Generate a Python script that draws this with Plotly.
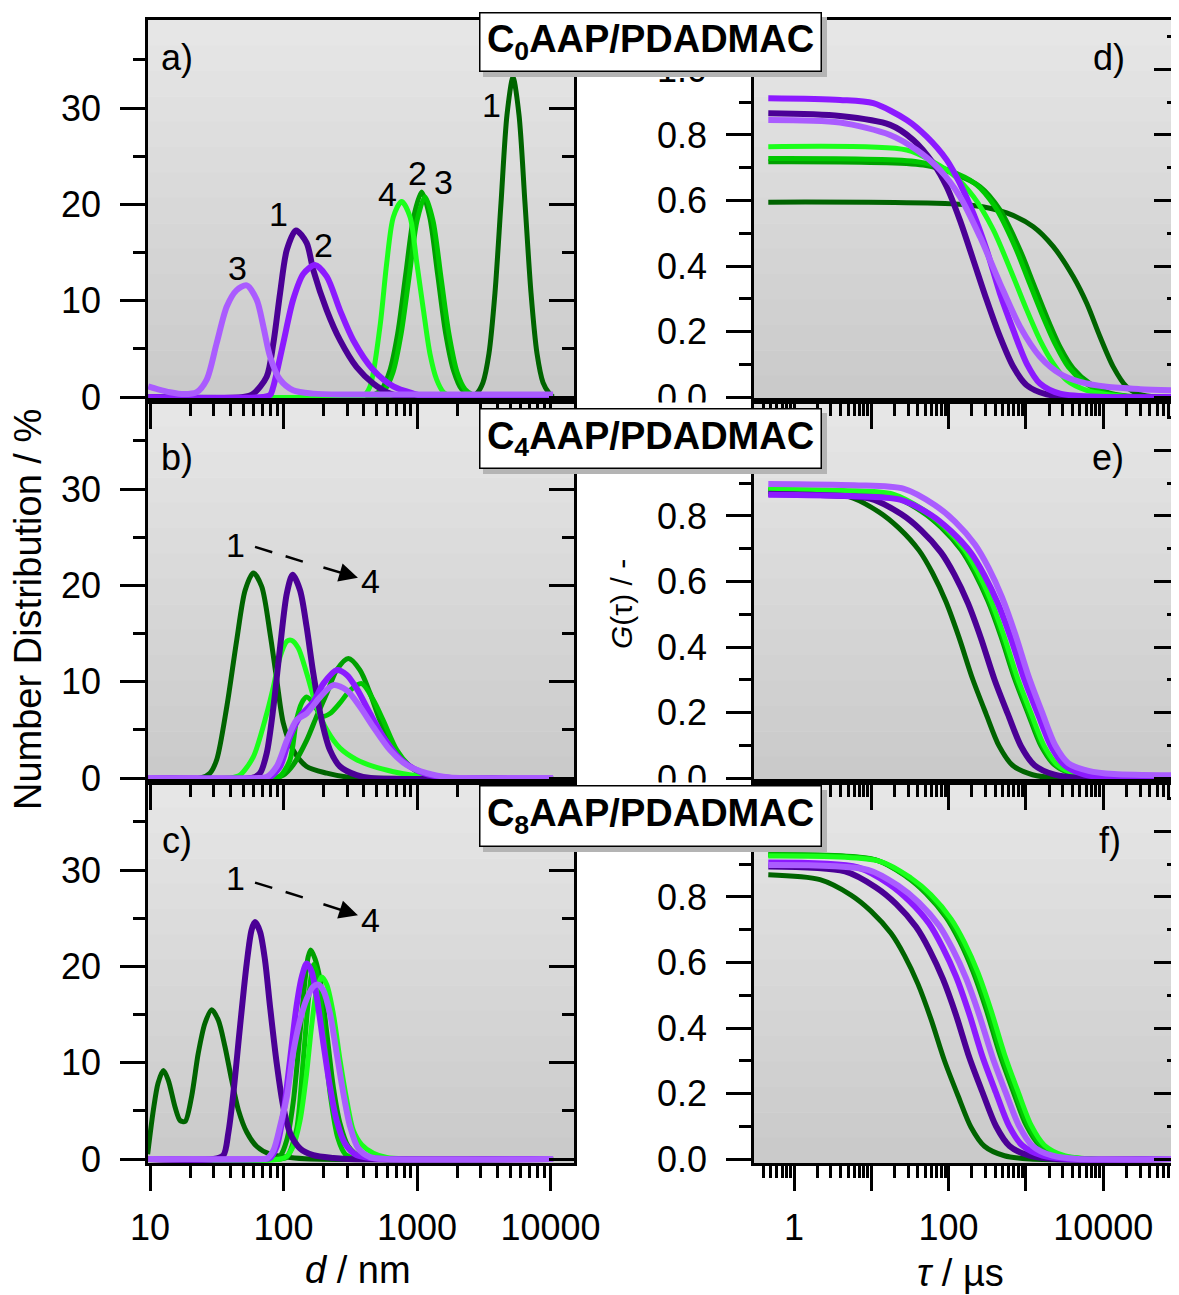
import math
import plotly.graph_objects as go

# page is 1179 x 1295; the browser body adds an 8 px margin around the figure
OFF = 8
W, H = 1179 - OFF, 1295 - OFF

# ======================= DATA =======================
# Left column: number distribution (%) vs d (nm)
# a) C0AAP/PDADMAC
a_dg_d = [9.7, 2500, 2812, 3119, 3459, 3837, 4256, 4721, 5236, 5808, 6442, 7145, 7925, 8790, 9750, 10450]
a_dg_n = [0, 0, 0.4, 1.5, 4.5, 10.8, 20.1, 29.3, 33.2, 29.3, 20.1, 10.8, 4.5, 1.5, 0.4, 0]
a_g2_d = [9.7, 420, 474, 544, 625, 717, 823, 944, 1084, 1245, 1429, 1640, 1883, 2161, 2481, 2800, 10450]
a_g2_n = [0, 0, 0.2, 0.8, 2.7, 6.6, 12.7, 18.7, 21.3, 18.7, 12.7, 6.6, 2.7, 0.8, 0.2, 0, 0]
a_g3_d = [9.7, 440, 502, 576, 662, 759, 871, 1000, 1148, 1318, 1513, 1737, 1994, 2289, 2627, 3000, 10450]
a_g3_n = [0, 0, 0.2, 0.8, 2.6, 6.5, 12.4, 18.3, 20.8, 18.3, 12.4, 6.5, 2.6, 0.8, 0.2, 0, 0]
a_bg_d = [9.7, 350, 396, 445, 528, 593, 665, 767, 887, 997, 1118, 1250, 1404, 1578, 1873, 10450]
a_bg_n = [0, 0, 0.1, 1.1, 7.3, 13.9, 18.7, 20.3, 18.7, 13.9, 9.0, 4.5, 1.8, 0.5, 0, 0]
a_dp_d = [9.7, 50, 59.4, 74.8, 84, 94.3, 106, 124, 149, 167, 211, 265, 353, 471, 628, 800, 10450]
a_dp_n = [0, 0, 0.35, 2.1, 5.6, 10.8, 15.3, 17.3, 16.0, 13.2, 9.0, 5.9, 3.1, 1.4, 0.35, 0, 0]
a_vi_d = [9.7, 70, 79.3, 84, 99.6, 118, 141, 172, 211, 265, 333, 471, 665, 940, 1200, 10450]
a_vi_n = [0, 0, 0.2, 1.1, 5.6, 10.1, 12.8, 13.7, 12.5, 9.0, 5.9, 2.8, 1.1, 0.35, 0, 0]
a_lp_d = [9.7, 11.5, 14.1, 18, 22.4, 26.6, 31.6, 37.6, 44.6, 53, 63, 70.7, 79.3, 94.3, 118, 167, 300, 10450]
a_lp_n = [1.1, 0.8, 0.5, 0.3, 0.5, 1.8, 5.6, 9.4, 11.1, 11.6, 10.1, 7.3, 4.2, 1.8, 0.7, 0.35, 0.25, 0.25]

# b) C4AAP/PDADMAC
b_dg_d = [9.7, 24, 28.1, 31.6, 37.6, 44.6, 51.6, 59.4, 68.6, 79.3, 89, 99.7, 118, 149, 211, 298, 400, 10450]
b_dg_n = [0, 0, 0.5, 1.9, 7.4, 14.3, 19.5, 21.3, 19.9, 15.0, 10.2, 5.7, 2.9, 1.2, 0.5, 0.1, 0, 0]
b_g2_d = [9.7, 85, 99.7, 118, 149, 177, 211, 250, 306, 374, 445, 528, 665, 838, 1052, 1324, 1600, 10450]
b_g2_n = [0, 0, 0.3, 1.35, 3.9, 6.4, 8.8, 11.2, 12.4, 11.2, 8.8, 6.0, 3.3, 1.5, 0.5, 0.1, 0, 0]
b_g3_d = [9.7, 80, 94.3, 112, 125, 137, 149, 167, 193, 223, 265, 315, 385, 471, 558, 706, 887, 1118, 1400, 10450]
b_g3_n = [0, 0, 0.2, 1.9, 6.0, 7.8, 8.4, 7.8, 6.4, 6.7, 7.8, 9.1, 9.8, 8.1, 6.0, 2.9, 1.2, 0.3, 0, 0]
b_bg_d = [9.7, 40, 47.2, 59.4, 74.9, 84.1, 94.3, 106, 115, 129, 149, 177, 211, 265, 353, 471, 665, 997, 1300, 10450]
b_bg_n = [0, 0, 0.3, 2.2, 6.7, 9.5, 12.6, 14.2, 14.3, 13.5, 10.9, 7.4, 5.0, 3.1, 1.9, 1.2, 0.65, 0.2, 0, 0]
b_dp_d = [9.7, 58, 66.7, 74.9, 84.1, 94.3, 106, 117, 133, 149, 167, 193, 223, 265, 353, 450, 10450]
b_dp_n = [0, 0, 0.5, 2.6, 7.4, 13.6, 19.2, 21.1, 19.5, 15.7, 10.9, 6.0, 2.9, 1.2, 0.3, 0, 0]
b_vi_d = [9.7, 70, 79.3, 94.3, 112, 133, 167, 199, 250, 298, 353, 445, 558, 746, 1052, 1486, 1800, 10450]
b_vi_n = [0, 0, 0.1, 1.2, 4.3, 6.4, 7.9, 9.8, 11.2, 10.7, 9.3, 6.7, 4.3, 2.0, 0.65, 0.1, 0, 0]
b_lp_d = [9.7, 66, 74.9, 89, 106, 125, 149, 188, 236, 298, 374, 471, 628, 838, 1183, 1766, 2200, 10450]
b_lp_n = [0, 0, 0.1, 1.2, 3.9, 6.0, 6.7, 8.4, 9.65, 9.1, 7.4, 5.3, 2.9, 1.35, 0.5, 0.05, 0, 0]

# c) C8AAP/PDADMAC
c_dg_d = [9.6, 10.6, 11.5, 12.6, 13.7, 15.4, 16.8, 18.3, 20.5, 23.0, 25.8, 29.0, 32.5, 36.4, 40.9, 45.9, 53.0, 63.1, 79.3, 112, 160, 10450]
c_dg_n = [0.5, 5.1, 7.9, 9.2, 8.2, 5.4, 4.0, 3.9, 6.5, 11.0, 14.1, 15.5, 14.4, 11.7, 8.2, 5.1, 2.8, 1.3, 0.5, 0.15, 0, 0]
c_g2_d = [9.7, 85, 94.3, 106, 118, 133, 145, 153, 160, 172, 188, 211, 236, 265, 306, 374, 450, 10450]
c_g2_n = [0, 0, 0.3, 2.0, 5.8, 13.1, 18.6, 21.0, 21.7, 20.8, 18.6, 13.1, 7.5, 3.7, 1.3, 0.2, 0, 0]
c_g3_d = [9.7, 95, 106, 125, 140, 155, 168, 180, 200, 225, 255, 290, 340, 420, 10450]
c_g3_n = [0, 0, 0.2, 3.0, 10.0, 17.0, 20.2, 19.0, 13.0, 6.5, 2.2, 0.5, 0.1, 0, 0]
c_bg_d = [9.7, 95, 106, 118, 133, 149, 162, 177, 193, 211, 236, 265, 298, 333, 385, 471, 593, 800, 10450]
c_bg_n = [0, 0, 0.3, 1.3, 4.0, 8.9, 13.7, 17.5, 18.9, 18.1, 15.1, 10.3, 6.1, 3.0, 1.5, 0.6, 0.15, 0, 0]
c_dp_d = [9.7, 30, 35.5, 38.6, 42.1, 47.2, 53.0, 57.7, 61.2, 66.7, 72.6, 79.3, 89.0, 99.7, 112, 133, 167, 236, 300, 10450]
c_dp_n = [0, 0, 0.4, 2.7, 6.8, 13.7, 20.3, 23.8, 24.6, 23.6, 20.7, 15.8, 9.9, 5.4, 2.7, 1.1, 0.4, 0.1, 0, 0]
c_vi_d = [9.7, 70, 79.3, 89, 99.7, 112, 125, 137, 149, 162, 177, 199, 223, 250, 289, 353, 445, 550, 10450]
c_vi_n = [0, 0, 0.1, 1.3, 4.7, 10.3, 15.8, 18.9, 20.3, 19.5, 16.9, 12.0, 7.5, 4.0, 1.6, 0.4, 0.1, 0, 0]
c_lp_d = [9.7, 66, 74.9, 84.1, 94.3, 106, 118, 133, 149, 167, 182, 199, 223, 250, 281, 315, 363, 445, 600, 10450]
c_lp_n = [0, 0, 0.05, 0.9, 3.4, 6.5, 11.0, 14.4, 16.6, 17.9, 18.1, 17.5, 15.1, 11.0, 6.8, 3.4, 1.1, 0.2, 0, 0]

# Right column: correlation function G(tau) vs tau (us)
# d) C0AAP/PDADMAC
d_dg_t = [0.465, 209, 564, 1247, 2263, 4105, 6120, 9100, 13500, 20100, 29900, 49200, 95500]
d_dg_g = [0.595, 0.585, 0.562, 0.520, 0.459, 0.367, 0.286, 0.184, 0.092, 0.031, 0.008, 0.0, 0.0]
d_g2_t = [0.465, 47.1, 115, 255, 462, 839, 1247, 1856, 2763, 4105, 6745, 11100, 20100, 95500]
d_g2_g = [0.718, 0.708, 0.683, 0.642, 0.571, 0.449, 0.347, 0.245, 0.153, 0.087, 0.041, 0.015, 0.003, 0.0]
d_g3_t = [0.465, 40.6, 99, 220, 398, 723, 1075, 1600, 2382, 3539, 5815, 9570, 17300, 95500]
d_g3_g = [0.728, 0.718, 0.693, 0.652, 0.581, 0.459, 0.357, 0.255, 0.163, 0.092, 0.043, 0.016, 0.003, 0.0]
d_bg_t = [0.465, 28.7, 63.5, 115, 209, 379, 687, 1024, 1521, 2263, 3370, 6120, 11100, 29900, 95500]
d_bg_g = [0.764, 0.754, 0.718, 0.678, 0.612, 0.510, 0.367, 0.266, 0.174, 0.102, 0.051, 0.020, 0.008, 0.0, 0.0]
d_dp_t = [0.465, 3.94, 17.5, 34.9, 63.5, 94.4, 140, 209, 311, 462, 687, 1024, 1856, 4105, 95500]
d_dp_g = [0.866, 0.858, 0.831, 0.785, 0.713, 0.642, 0.540, 0.418, 0.296, 0.184, 0.092, 0.036, 0.008, 0.0, 0.0]
d_vi_t = [0.465, 3.94, 10.6, 28.7, 52.1, 94.4, 140, 209, 311, 462, 687, 1024, 1521, 2763, 11100, 95500]
d_vi_g = [0.912, 0.907, 0.897, 0.846, 0.795, 0.724, 0.652, 0.561, 0.449, 0.316, 0.204, 0.102, 0.041, 0.010, 0.0, 0.0]
d_lp_t = [0.465, 3.94, 17.5, 38.7, 77.4, 140, 255, 462, 839, 1521, 2763, 5013, 11100, 29900, 95500]
d_lp_g = [0.846, 0.838, 0.800, 0.754, 0.693, 0.612, 0.489, 0.347, 0.215, 0.123, 0.071, 0.046, 0.031, 0.024, 0.020]

# e) C4AAP/PDADMAC
e_dg_t = [0.465, 1.13, 5.0, 12.6, 22.8, 41.4, 61.9, 92.5, 136, 204, 305, 449, 671, 1217, 2600, 95500]
e_dg_g = [0.875, 0.871, 0.860, 0.812, 0.763, 0.695, 0.626, 0.538, 0.430, 0.303, 0.196, 0.098, 0.039, 0.010, 0.0, 0.0]
e_g2_t = [0.465, 3.95, 17.5, 44, 79.7, 145, 216, 323, 476, 713, 1066, 1569, 2345, 4254, 9086, 95500]
e_g2_g = [0.878, 0.874, 0.863, 0.815, 0.766, 0.697, 0.628, 0.540, 0.432, 0.304, 0.197, 0.098, 0.040, 0.010, 0.0, 0.0]
e_g3_t = [0.465, 4.1, 18.1, 45.7, 82.7, 150, 224, 335, 494, 740, 1107, 1629, 2435, 4417, 9434, 95500]
e_g3_g = [0.880, 0.876, 0.865, 0.817, 0.767, 0.699, 0.629, 0.541, 0.433, 0.304, 0.197, 0.099, 0.040, 0.010, 0.0, 0.0]
e_bg_t = [0.465, 4.32, 19.1, 48.1, 87.1, 158, 236, 353, 520, 779, 1165, 1715, 2563, 4649, 9930, 95500]
e_bg_g = [0.882, 0.878, 0.867, 0.818, 0.769, 0.700, 0.631, 0.542, 0.434, 0.305, 0.198, 0.099, 0.040, 0.010, 0.0, 0.0]
e_dp_t = [0.465, 2.18, 9.6, 24.3, 43.9, 79.7, 119, 178, 262, 393, 587, 865, 1292, 2344, 5008, 95500]
e_dp_g = [0.868, 0.864, 0.853, 0.806, 0.757, 0.689, 0.621, 0.534, 0.427, 0.300, 0.194, 0.097, 0.039, 0.010, 0.0, 0.0]
e_vi_t = [0.465, 5.32, 23.5, 59.3, 107, 195, 292, 436, 641, 961, 1437, 2115, 3160, 5732, 12250, 95500]
e_vi_g = [0.865, 0.861, 0.850, 0.803, 0.754, 0.687, 0.618, 0.532, 0.426, 0.299, 0.194, 0.097, 0.039, 0.010, 0.0, 0.0]
e_lp_t = [0.465, 5.99, 26.5, 66.8, 121, 219, 328, 490, 721, 1081, 1617, 2380, 3556, 6450, 13780, 95500]
e_lp_g = [0.898, 0.894, 0.883, 0.833, 0.783, 0.713, 0.642, 0.552, 0.442, 0.311, 0.201, 0.101, 0.045, 0.022, 0.012, 0.008]

# f) C8AAP/PDADMAC
f_dg_t = [0.465, 2.17, 5.46, 9.91, 18.0, 26.9, 40.2, 59.2, 88.5, 132, 195, 291, 528, 1130, 95500]
f_dg_g = [0.868, 0.853, 0.806, 0.757, 0.689, 0.621, 0.534, 0.427, 0.300, 0.194, 0.097, 0.039, 0.010, 0.0, 0.0]
f_g2_t = [0.465, 11.2, 28.1, 51.0, 92.7, 139, 207, 305, 456, 680, 1004, 1499, 2719, 5820, 95500]
f_g2_g = [0.930, 0.914, 0.863, 0.811, 0.738, 0.665, 0.572, 0.458, 0.322, 0.208, 0.104, 0.042, 0.010, 0.0, 0.0]
f_g3_t = [0.465, 11.8, 29.8, 54.0, 98.1, 147, 219, 323, 482, 719, 1063, 1586, 2878, 6159, 95500]
f_g3_g = [0.928, 0.912, 0.861, 0.809, 0.737, 0.664, 0.571, 0.457, 0.321, 0.208, 0.104, 0.042, 0.010, 0.0, 0.0]
f_bg_t = [0.465, 13.0, 32.6, 59.2, 107, 161, 240, 353, 528, 788, 1164, 1737, 3152, 6746, 95500]
f_bg_g = [0.925, 0.909, 0.858, 0.807, 0.734, 0.661, 0.569, 0.455, 0.320, 0.207, 0.104, 0.042, 0.010, 0.0, 0.0]
f_dp_t = [0.465, 4.57, 11.5, 20.9, 37.9, 56.7, 84.7, 125, 186, 278, 411, 613, 1112, 2380, 95500]
f_dp_g = [0.893, 0.878, 0.829, 0.779, 0.709, 0.638, 0.549, 0.439, 0.309, 0.200, 0.100, 0.040, 0.010, 0.0, 0.0]
f_vi_t = [0.465, 6.73, 16.9, 30.7, 55.8, 83.4, 125, 184, 274, 409, 605, 902, 1637, 3503, 95500]
f_vi_g = [0.905, 0.890, 0.840, 0.789, 0.719, 0.647, 0.557, 0.445, 0.313, 0.203, 0.101, 0.041, 0.010, 0.0, 0.0]
f_lp_t = [0.465, 9.07, 22.8, 41.4, 75.2, 112, 168, 247, 370, 552, 815, 1216, 2207, 4723, 95500]
f_lp_g = [0.898, 0.883, 0.833, 0.783, 0.713, 0.642, 0.552, 0.442, 0.311, 0.201, 0.101, 0.040, 0.010, 0.0, 0.0]

# Tick labels
d_ticks = [10, 100, 1000, 10000]
d_ticktext = ["10", "100", "1000", "10000"]
n_ticks = [0, 10, 20, 30]
n_ticktext = ["0", "10", "20", "30"]
t_ticks = [1, 10, 100, 1000, 10000]
t_ticktext = ["1", " ", "100", " ", "10000"]
g_ticks = [0.0, 0.2, 0.4, 0.6, 0.8, 1.0]
g_ticktext = ["0.0", "0.2", "0.4", "0.6", "0.8", "1.0"]

titles = ["C<sub>0</sub>AAP/PDADMAC", "C<sub>4</sub>AAP/PDADMAC", "C<sub>8</sub>AAP/PDADMAC"]

# ======================= STYLE =======================
DG, G2, G3, BG = "#006400", "#00a000", "#00c800", "#1aff1a"
DP, VI, LP = "#4b0096", "#8c1aff", "#aa5cff"
FONT = "Liberation Sans, Arial, sans-serif"

panels = {
    1: [(a_dg_d, a_dg_n, DG), (a_g2_d, a_g2_n, G2), (a_g3_d, a_g3_n, G3), (a_bg_d, a_bg_n, BG),
        (a_dp_d, a_dp_n, DP), (a_vi_d, a_vi_n, VI), (a_lp_d, a_lp_n, LP)],
    2: [(b_dg_d, b_dg_n, DG), (b_g2_d, b_g2_n, G2), (b_g3_d, b_g3_n, G3), (b_bg_d, b_bg_n, BG),
        (b_dp_d, b_dp_n, DP), (b_vi_d, b_vi_n, VI), (b_lp_d, b_lp_n, LP)],
    3: [(c_dg_d, c_dg_n, DG), (c_g2_d, c_g2_n, G2), (c_g3_d, c_g3_n, G3), (c_bg_d, c_bg_n, BG),
        (c_dp_d, c_dp_n, DP), (c_vi_d, c_vi_n, VI), (c_lp_d, c_lp_n, LP)],
    4: [(d_dg_t, d_dg_g, DG), (d_g2_t, d_g2_g, G2), (d_g3_t, d_g3_g, G3), (d_bg_t, d_bg_g, BG),
        (d_dp_t, d_dp_g, DP), (d_vi_t, d_vi_g, VI), (d_lp_t, d_lp_g, LP)],
    5: [(e_dg_t, e_dg_g, DG), (e_g2_t, e_g2_g, G2), (e_g3_t, e_g3_g, G3), (e_bg_t, e_bg_g, BG),
        (e_dp_t, e_dp_g, DP), (e_vi_t, e_vi_g, VI), (e_lp_t, e_lp_g, LP)],
    6: [(f_dg_t, f_dg_g, DG), (f_g2_t, f_g2_g, G2), (f_g3_t, f_g3_g, G3), (f_bg_t, f_bg_g, BG),
        (f_dp_t, f_dp_g, DP), (f_vi_t, f_vi_g, VI), (f_lp_t, f_lp_g, LP)],
}

# layout positions in page pixels (converted to figure paper fractions below)
LEFT_PX = (148, 574)
RIGHT_PX = (754, 1179)
ROWS_PX = [(20, 401), (401, 782), (782, 1163)]


def fx(px):
    return (px - OFF) / W


def fy(py):
    return 1 - (py - OFF) / H


def xr(n):
    return "x" if n == 1 else f"x{n}"


def yr(n):
    return "y" if n == 1 else f"y{n}"


def key(prefix, n):
    return prefix if n == 1 else f"{prefix}{n}"


fig = go.Figure()

for n, curves in panels.items():
    for xs, ys, col in curves:
        fig.add_trace(go.Scatter(
            x=xs, y=ys, mode="lines", xaxis=xr(n), yaxis=yr(n),
            line=dict(color=col, width=6 if col in (DP, VI, LP) else 5, shape="spline", smoothing=0.8),
            showlegend=False, hoverinfo="skip"))
    # empty trace to register the inward-tick overlay axis on the right
    fig.add_trace(go.Scatter(x=[], y=[], xaxis=xr(n), yaxis=yr(n + 6), showlegend=False, hoverinfo="skip"))

# dashed "1 --> 4" arrows in b) and c)
arrow_specs = [(2, [61.2, 145], [24.0, 22.4], 194, 21.9, 361, 20.8),
               (3, [61.2, 145], [28.7, 27.1], 194, 26.5, 361, 25.3)]
for n, xs, ys, tx, ty, hx, hy in arrow_specs:
    fig.add_trace(go.Scatter(x=xs, y=ys, mode="lines", xaxis=xr(n), yaxis=yr(n),
                             line=dict(color="black", width=2.5, dash="18px,14px"),
                             showlegend=False, hoverinfo="skip"))

tickfont = dict(family=FONT, size=36, color="black")
common = dict(showline=True, linecolor="black", linewidth=2.5, mirror=True, ticks="outside",
              ticklen=25, tickwidth=2.5, tickcolor="black", showgrid=False, zeroline=False,
              tickfont=tickfont, fixedrange=True, automargin=False)

minor_d = [m * 10 ** e for e in (1, 2, 3) for m in range(2, 10)]
minor_t = [round(m * 10 ** e, 3) for e in (-1, 0, 1, 2, 3, 4) for m in range(2, 10)]
minor_t = [v for v in minor_t if v > 0.35]

layout = {}
for n in range(1, 7):
    left = n <= 3
    row = (n - 1) % 3
    top, bot = ROWS_PX[row]
    xpx = LEFT_PX if left else RIGHT_PX
    xdom = [fx(xpx[0]), min(1.0, fx(xpx[1]))]
    ydom = [fy(bot), fy(top)]
    bottom_row = row == 2
    if left:
        xa = dict(common, type="log", range=[0.985, 4.176], tickmode="array",
                  tickvals=d_ticks, ticktext=d_ticktext,
                  minor=dict(tickmode="array", tickvals=minor_d, ticks="outside", ticklen=12,
                             tickwidth=2.5, tickcolor="black", showgrid=False))
        yrange = [-0.415, 39.15]
        ymaj, ytxt, ymin = n_ticks, n_ticktext, [5, 15, 25, 35]
    else:
        xa = dict(common, type="log", range=[-0.5175, 4.9806], tickmode="array",
                  tickvals=t_ticks, ticktext=t_ticktext,
                  minor=dict(tickmode="array", tickvals=minor_t, ticks="outside", ticklen=12,
                             tickwidth=2.5, tickcolor="black", showgrid=False))
        yrange = [-0.0122, 1.1511]
        ymaj, ytxt, ymin = g_ticks, g_ticktext, [0.1, 0.3, 0.5, 0.7, 0.9, 1.1]
    xa.update(domain=xdom, anchor=yr(n), showticklabels=bottom_row, ticklabelstandoff=6)
    ya = dict(common, range=yrange, tickmode="array", tickvals=ymaj, ticktext=ytxt,
              domain=ydom, anchor=xr(n), ticklabelstandoff=12,
              minor=dict(tickmode="array", tickvals=ymin, ticks="outside", ticklen=12,
                         tickwidth=2.5, tickcolor="black", showgrid=False))
    yo = dict(range=yrange, overlaying=yr(n), side="right", anchor=xr(n), tickmode="array",
              tickvals=ymaj, ticks="inside", ticklen=25, tickwidth=2.5, tickcolor="black",
              showticklabels=False, showline=False, showgrid=False, zeroline=False, fixedrange=True,
              automargin=False,
              minor=dict(tickmode="array", tickvals=ymin, ticks="inside", ticklen=12,
                         tickwidth=2.5, tickcolor="black", showgrid=False))
    layout[key("xaxis", n)] = xa
    layout[key("yaxis", n)] = ya
    layout[f"yaxis{n + 6}"] = yo

# ---------- shapes ----------
shapes = []
NB = 30
for n in range(1, 7):
    left = n <= 3
    top, bot = ROWS_PX[(n - 1) % 3]
    x0, x1 = (LEFT_PX if left else RIGHT_PX)
    for i in range(NB):
        t = (i + 0.5) / NB
        c = int(round(231 + (201 - 231) * t))
        yt = top + (bot - top) * i / NB
        yb = top + (bot - top) * (i + 1) / NB + 0.6
        shapes.append(dict(type="rect", xref="paper", yref="paper", layer="below",
                           x0=fx(x0), x1=min(1.0, fx(x1)), y0=fy(yb), y1=fy(yt),
                           fillcolor=f"rgb({c},{c},{c})", line=dict(width=0)))

# white strips that clip the lower half of the "0.0" labels (like overlapping layers)
for (yt, yb) in [(402.5, 409), (782.5, 787)]:
    shapes.append(dict(type="rect", xref="paper", yref="paper", layer="above",
                       x0=fx(596), x1=fx(751), y0=fy(yb), y1=fy(yt),
                       fillcolor="white", line=dict(width=0)))

# title-box shadows
BOX_Y = [(12, 72), (408, 469), (785, 847)]
for (yt, yb) in BOX_Y:
    shapes.append(dict(type="rect", xref="paper", yref="paper", layer="above",
                       x0=fx(483), x1=fx(827), y0=fy(yb + 5), y1=fy(yt + 5),
                       fillcolor="#b4b4b4", line=dict(width=0)))

# ---------- annotations ----------
ann = []
for (yt, yb), txt in zip(BOX_Y, titles):
    ann.append(dict(xref="paper", yref="paper", x=fx(650), y=fy((yt + yb) / 2),
                    xanchor="center", yanchor="middle", text=f"<b>{txt}</b>", showarrow=False,
                    font=dict(family=FONT, size=38, color="black"),
                    bgcolor="white", bordercolor="black", borderwidth=1.5, borderpad=1,
                    width=338, height=(yb - yt) - 5))

letters = [("a)", 177, 57), ("b)", 177, 458), ("c)", 177, 840),
           ("d)", 1109, 58), ("e)", 1108, 458), ("f)", 1110, 840)]
for txt, px, py in letters:
    ann.append(dict(xref="paper", yref="paper", x=fx(px), y=fy(py), text=txt,
                    showarrow=False, xanchor="center", yanchor="middle",
                    font=dict(family=FONT, size=36, color="black")))

# curve numbers in a)
nums_a = [("3", 45.6, 13.4), ("1", 91.8, 19.0), ("2", 198, 15.8), ("4", 596, 21.1),
          ("2", 1000, 23.3), ("3", 1592, 22.3), ("1", 3614, 30.3)]
for txt, dv, yv in nums_a:
    ann.append(dict(xref="x", yref="y", x=math.log10(dv), y=yv, text=txt, showarrow=False,
                    xanchor="center", yanchor="middle", font=dict(family=FONT, size=34, color="black")))

nums_bc = [(2, "1", 44.0, 24.2), (2, "4", 452, 20.5), (3, "1", 43.4, 29.2), (3, "4", 445, 24.8)]
for n, txt, dv, yv in nums_bc:
    ann.append(dict(xref=xr(n), yref=yr(n), x=math.log10(dv), y=yv, text=txt, showarrow=False,
                    xanchor="center", yanchor="middle", font=dict(family=FONT, size=34, color="black")))

for n, xs, ys, tx, ty, hx, hy in arrow_specs:
    ann.append(dict(xref=xr(n), yref=yr(n), axref=xr(n), ayref=yr(n),
                    x=math.log10(hx), y=hy, ax=math.log10(tx), ay=ty, text="",
                    showarrow=True, arrowhead=2, arrowsize=1.5, arrowwidth=2.5,
                    arrowcolor="black", standoff=0))

# axis titles
ann.append(dict(xref="paper", yref="paper", x=fx(28), y=fy(610), text="Number Distribution / %",
                textangle=-90, showarrow=False, xanchor="center", yanchor="middle",
                font=dict(family=FONT, size=38, color="black")))
ann.append(dict(xref="paper", yref="paper", x=fx(621), y=fy(604), text="<i>G</i>(τ) / -",
                textangle=-90, showarrow=False, xanchor="center", yanchor="middle",
                font=dict(family=FONT, size=30, color="black")))
ann.append(dict(xref="paper", yref="paper", x=fx(358), y=fy(1270), text="<i>d</i> / nm",
                showarrow=False, xanchor="center", yanchor="middle",
                font=dict(family=FONT, size=38, color="black")))
ann.append(dict(xref="paper", yref="paper", x=fx(960), y=fy(1273), text="<i>τ</i> / µs",
                showarrow=False, xanchor="center", yanchor="middle",
                font=dict(family=FONT, size=38, color="black")))

fig.update_layout(
    width=W, height=H, autosize=False,
    margin=dict(l=0, r=0, t=0, b=0, pad=0, autoexpand=False),
    paper_bgcolor="white", plot_bgcolor="rgba(0,0,0,0)",
    showlegend=False, shapes=shapes, annotations=ann,
    font=dict(family=FONT, color="black"),
    **layout)

fig.write_html("out.html", config={"displayModeBar": False})
